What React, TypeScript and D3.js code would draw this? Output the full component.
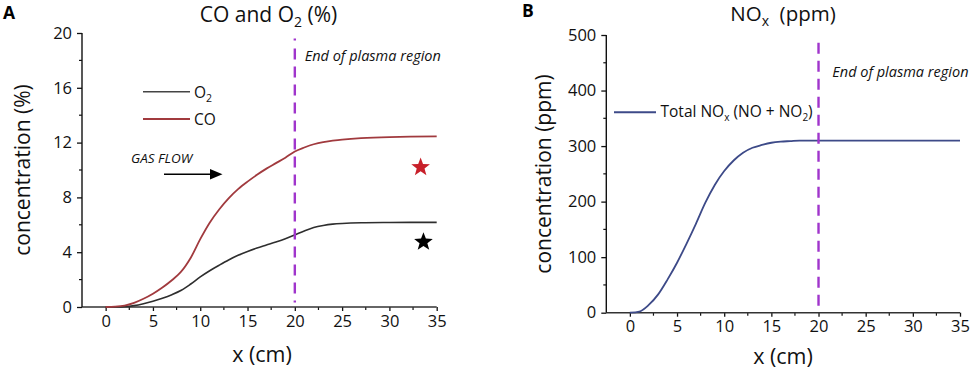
import React, { useEffect, useRef } from "react";
import * as d3 from "d3";

const xPos = [0, 1, 2, 3, 4, 5, 6, 7, 8, 9, 10, 11, 12, 13, 14, 15, 16, 17, 18, 19, 20, 21, 22, 23, 24, 25, 27, 30, 35];
const coValues = [0, 0.02, 0.1, 0.3, 0.6, 0.97, 1.42, 1.95, 2.6, 3.6, 4.95, 6.15, 7.12, 7.93, 8.6, 9.15, 9.65, 10.1, 10.5, 10.9, 11.35, 11.64, 11.88, 12.04, 12.14, 12.22, 12.32, 12.4, 12.46];
const o2Values = [0, 0, 0.02, 0.1, 0.24, 0.42, 0.64, 0.9, 1.22, 1.68, 2.2, 2.65, 3.05, 3.43, 3.77, 4.05, 4.3, 4.52, 4.74, 4.98, 5.26, 5.55, 5.8, 5.95, 6.05, 6.1, 6.15, 6.17, 6.18];

const noxX = [0, 1, 2, 3, 4, 5, 6, 7, 8, 9, 10, 11, 12, 13, 14, 15, 16, 17, 18, 20, 25, 30, 35];
const noxValues = [0, 2, 14, 33, 60, 90, 124, 160, 198, 230, 255, 274, 288, 297, 302, 306, 308, 309, 310, 310, 310, 310, 310];

const xTicks = [0, 5, 10, 15, 20, 25, 30, 35];
const xMinor = [2.5, 7.5, 12.5, 17.5, 22.5, 27.5, 32.5];
const yTicksA = [0, 4, 8, 12, 16, 20];
const yMinorA = [2, 6, 10, 14, 18];
const yTicksB = [0, 100, 200, 300, 400, 500];
const yMinorB = [50, 150, 250, 350, 450];

const starsA = [
  { x: 33.3, y: 10.2, color: "#c8202a" },
  { x: 33.6, y: 4.75, color: "#000000" },
];
const plasmaEnd = 20;

const FONT = "'Open Sans', sans-serif";
const PURPLE = "#a035cc";

function starPath(cx: number, cy: number, R: number, r: number) {
  const pts: string[] = [];
  for (let i = 0; i < 10; i++) {
    const a = -Math.PI / 2 + (i * Math.PI) / 5;
    const rr = i % 2 === 0 ? R : r;
    pts.push(`${cx + rr * Math.cos(a)},${cy + rr * Math.sin(a)}`);
  }
  return "M" + pts.join("L") + "Z";
}

export default function App() {
  const ref = useRef<SVGSVGElement>(null);

  useEffect(() => {
    const svg = d3.select(ref.current);
    svg.selectAll("*").remove();

    const drawAxes = (
      x: d3.ScaleLinear<number, number>,
      y: d3.ScaleLinear<number, number>,
      yTicks: number[],
      yMinor: number[]
    ) => {
      const g = svg.append("g");
      const [x0, x1] = x.range();
      const [y0, y1] = y.range();
      const xa = g.append("g").attr("transform", `translate(0,${y0})`);
      xa.call(
        d3.axisBottom(x).tickValues(xTicks).tickSize(4).tickPadding(4).tickFormat(d3.format("d")) as any
      );
      xa.select(".domain").remove();
      xa.selectAll(".tick line").attr("stroke", "#111").attr("stroke-width", 1.3);
      xa.selectAll(".tick text")
        .attr("font-family", FONT)
        .attr("font-size", 16.5)
        .attr("fill", "#111");
      xa.selectAll(".minor")
        .data(xMinor)
        .join("line")
        .attr("x1", (d) => x(d))
        .attr("x2", (d) => x(d))
        .attr("y1", 0)
        .attr("y2", 3)
        .attr("stroke", "#111")
        .attr("stroke-width", 1.2);
      g.append("line")
        .attr("x1", x0)
        .attr("x2", x1)
        .attr("y1", y0)
        .attr("y2", y0)
        .attr("stroke", "#333")
        .attr("stroke-width", 1.4);
      const ya = g.append("g").attr("transform", `translate(${x0},0)`);
      ya.call(d3.axisLeft(y).tickValues(yTicks).tickSize(5).tickPadding(5).tickFormat(d3.format("d")) as any);
      ya.select(".domain").remove();
      ya.selectAll(".tick line").attr("stroke", "#111").attr("stroke-width", 1.3);
      ya.selectAll(".tick text")
        .attr("font-family", FONT)
        .attr("font-size", 16.5)
        .attr("fill", "#111");
      ya.selectAll(".minor")
        .data(yMinor)
        .join("line")
        .attr("x1", 0)
        .attr("x2", -3)
        .attr("y1", (d) => y(d))
        .attr("y2", (d) => y(d))
        .attr("stroke", "#111")
        .attr("stroke-width", 1.2);
      g.append("line")
        .attr("x1", x0)
        .attr("x2", x0)
        .attr("y1", y0)
        .attr("y2", y1)
        .attr("stroke", "#111")
        .attr("stroke-width", 1.4);
    };

    // ---------- Panel A ----------
    const xA = d3.scaleLinear().domain([-2.5, 35]).range([82, 436.7]);
    const yA = d3.scaleLinear().domain([0, 20]).range([307, 33]);
    drawAxes(xA, yA, yTicksA, yMinorA);

    const lineA = (vals: number[]) =>
      d3
        .line<number>()
        .x((_, i) => xA(xPos[i]))
        .y((d) => yA(d))
        .curve(d3.curveCatmullRom.alpha(0.5))(vals);

    svg.append("path").attr("d", lineA(o2Values)).attr("fill", "none").attr("stroke", "#2e2e2e").attr("stroke-width", 1.6);
    svg.append("path").attr("d", lineA(coValues)).attr("fill", "none").attr("stroke", "#a13a3e").attr("stroke-width", 1.8);

    svg.append("line")
      .attr("x1", xA(plasmaEnd)).attr("x2", xA(plasmaEnd))
      .attr("y1", yA(19.6)).attr("y2", yA(0))
      .attr("stroke", PURPLE).attr("stroke-width", 2.4)
      .attr("stroke-dasharray", "2 8 11 7 11 7 11 7 11 7 11 7 11 7 11 7 11 7 11 7 11 7 11 7 11 7 11 7 11 7");

    starsA.forEach((s) => {
      svg.append("path").attr("d", starPath(xA(s.x), yA(s.y), 9.8, 4.1)).attr("fill", s.color);
    });

    // legend A
    svg.append("line").attr("x1", 143).attr("x2", 190).attr("y1", 91.7).attr("y2", 91.7).attr("stroke", "#444").attr("stroke-width", 1.5);
    svg.append("line").attr("x1", 143).attr("x2", 190).attr("y1", 119).attr("y2", 119).attr("stroke", "#a13a3e").attr("stroke-width", 2);
    const tO2 = svg.append("text").attr("x", 194).attr("y", 97.5).attr("font-family", FONT).attr("font-size", 15.5).attr("fill", "#111");
    tO2.append("tspan").text("O");
    tO2.append("tspan").attr("font-size", 10.5).attr("dy", 4).text("2");
    svg.append("text").attr("x", 194).attr("y", 125).attr("font-family", FONT).attr("font-size", 15.5).attr("fill", "#111").text("CO");

    // gas flow
    svg.append("text").attr("x", 131).attr("y", 162.5).attr("font-family", FONT).attr("font-size", 13.5).attr("font-style", "italic").attr("fill", "#111").text("GAS FLOW");
    svg.append("line").attr("x1", 164).attr("x2", 212).attr("y1", 174.3).attr("y2", 174.3).attr("stroke", "#000").attr("stroke-width", 1.4);
    svg.append("path").attr("d", "M210,169 L222.5,174.3 L210,179.6 Z").attr("fill", "#000");

    svg.append("text").attr("x", 304.7).attr("y", 61).attr("font-family", FONT).attr("font-size", 14.5).attr("font-style", "italic").attr("fill", "#111").text("End of plasma region");

    // titles A
    svg.append("text").attr("x", 3).attr("y", 18.5).attr("font-family", FONT).attr("font-size", 17.5).attr("font-weight", "bold").attr("fill", "#000").text("A");
    const tA = svg.append("text").attr("x", 268.5).attr("y", 21.7).attr("text-anchor", "middle").attr("font-family", FONT).attr("font-size", 21).attr("fill", "#111");
    tA.append("tspan").text("CO and O");
    tA.append("tspan").attr("font-size", 14).attr("dy", 5).text("2");
    tA.append("tspan").attr("dy", -5).text(" (%)");
    svg.append("text").attr("transform", "translate(30,170) rotate(-90)").attr("text-anchor", "middle").attr("font-family", FONT).attr("font-size", 21).attr("fill", "#111").text("concentration (%)");
    svg.append("text").attr("x", 262).attr("y", 362).attr("text-anchor", "middle").attr("font-family", FONT).attr("font-size", 21.5).attr("fill", "#111").text("x (cm)");

    // ---------- Panel B ----------
    const xB = d3.scaleLinear().domain([-2.5, 35]).range([606.3, 960]);
    const yB = d3.scaleLinear().domain([0, 500]).range([312.7, 35]);
    drawAxes(xB, yB, yTicksB, yMinorB);

    const lineB = d3
      .line<number>()
      .x((_, i) => xB(noxX[i]))
      .y((d) => yB(d))
      .curve(d3.curveMonotoneX);
    svg.append("path").attr("d", lineB(noxValues)).attr("fill", "none").attr("stroke", "#3d4a88").attr("stroke-width", 1.8);

    svg.append("line")
      .attr("x1", xB(plasmaEnd)).attr("x2", xB(plasmaEnd))
      .attr("y1", yB(486)).attr("y2", yB(0))
      .attr("stroke", PURPLE).attr("stroke-width", 2.4)
      .attr("stroke-dasharray", "11 7");

    // legend B
    svg.append("line").attr("x1", 614).attr("x2", 656).attr("y1", 112.3).attr("y2", 112.3).attr("stroke", "#3d4a88").attr("stroke-width", 2);
    const tL = svg.append("text").attr("x", 660.5).attr("y", 117.3).attr("font-family", FONT).attr("font-size", 15.5).attr("fill", "#111");
    tL.append("tspan").text("Total NO");
    tL.append("tspan").attr("font-size", 10).attr("dy", 4).text("x");
    tL.append("tspan").attr("dy", -4).text(" (NO + NO");
    tL.append("tspan").attr("font-size", 10).attr("dy", 4).text("2");
    tL.append("tspan").attr("dy", -4).text(")");

    svg.append("text").attr("x", 832.3).attr("y", 77.3).attr("font-family", FONT).attr("font-size", 14.5).attr("font-style", "italic").attr("fill", "#111").text("End of plasma region");

    svg.append("text").attr("x", 522).attr("y", 17).attr("font-family", FONT).attr("font-size", 17.5).attr("font-weight", "bold").attr("fill", "#000").text("B");
    const tB = svg.append("text").attr("x", 783).attr("y", 21).attr("text-anchor", "middle").attr("font-family", FONT).attr("font-size", 20.5).attr("fill", "#111");
    tB.append("tspan").text("NO");
    tB.append("tspan").attr("font-size", 14).attr("dy", 5).text("x");
    tB.append("tspan").attr("dy", -5).text("\u00a0\u00a0(ppm)");
    svg.append("text").attr("transform", "translate(551,174) rotate(-90)").attr("text-anchor", "middle").attr("font-family", FONT).attr("font-size", 21).attr("fill", "#111").text("concentration (ppm)");
    svg.append("text").attr("x", 783).attr("y", 364).attr("text-anchor", "middle").attr("font-family", FONT).attr("font-size", 21.5).attr("fill", "#111").text("x (cm)");
  }, []);

  return (
    <div style={{ position: "absolute", left: 0, top: 0 }}>
      <svg ref={ref} width={972} height={374} style={{ display: "block", background: "#fff" }} />
    </div>
  );
}
